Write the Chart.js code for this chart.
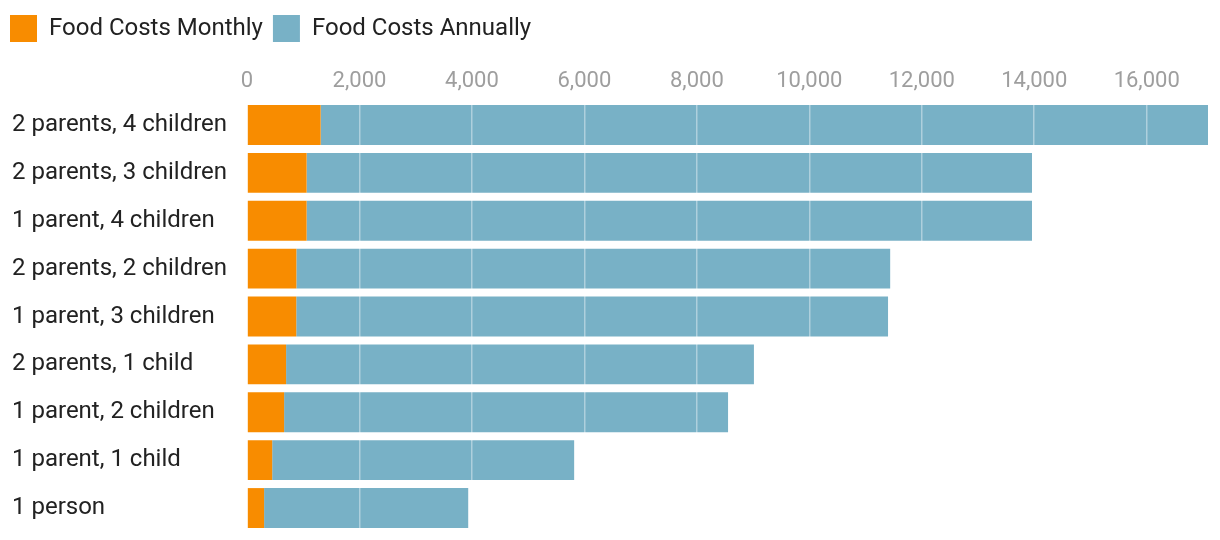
<!DOCTYPE html>
<html>
<head>
<meta charset="utf-8">
<title>Food Costs</title>
<script src="https://cdn.jsdelivr.net/npm/chart.js@4"></script>
<style>
    html, body { margin: 0; padding: 0; background: #fff; }
    #wrap { width: 1220px; height: 540px; }
</style>
</head>
<body>
<div id="wrap"><canvas id="foodChart" width="1220" height="540"></canvas></div>
<script>
// household types, top to bottom
const householdLabels = [
    '2 parents, 4 children',
    '2 parents, 3 children',
    '1 parent, 4 children',
    '2 parents, 2 children',
    '1 parent, 3 children',
    '2 parents, 1 child',
    '1 parent, 2 children',
    '1 parent, 1 child',
    '1 person'
];
const monthlyCosts = [1310, 1060, 1060, 878, 876, 695, 660, 448, 304];
const annualCosts = [15780, 12900, 12900, 10560, 10524, 8320, 7895, 5370, 3630];
const tickValues = [0, 2000, 4000, 6000, 8000, 10000, 12000, 14000, 16000];

const ORANGE = '#f88c00';
const BLUE = '#78b1c6';

// axis ends right where the biggest stacked bar ends
const axisMax = Math.max(...monthlyCosts.map((m, i) => m + annualCosts[i]));

Chart.defaults.font.family = 'Roboto, "Noto Sans", sans-serif';

// y labels sit 12px in from the left edge, legend stays at 10px
const shiftLabels = {
    id: 'shiftLabels',
    afterLayout(chart) {
        chart.scales.y.left = 12;
    }
};

const ctx = document.getElementById('foodChart').getContext('2d');
new Chart(ctx, {
    type: 'bar',
    data: {
        labels: householdLabels,
        datasets: [
            {
                label: 'Food Costs Monthly',
                data: monthlyCosts,
                backgroundColor: ORANGE,
                borderWidth: 0,
                barPercentage: 1,
                categoryPercentage: 40 / 48
            },
            {
                label: 'Food Costs Annually',
                data: annualCosts,
                backgroundColor: BLUE,
                borderWidth: 0,
                barPercentage: 1,
                categoryPercentage: 40 / 48
            }
        ]
    },
    options: {
        indexAxis: 'y',
        responsive: false,
        animation: false,
        layout: { padding: { top: 5, left: 0, right: 12, bottom: 8 } },
        plugins: {
            legend: {
                position: 'top',
                align: 'start',
                labels: {
                    boxWidth: 27,
                    boxHeight: 27,
                    padding: 10,
                    color: '#222',
                    font: { size: 24 }
                }
            },
            tooltip: { enabled: false }
        },
        scales: {
            x: {
                position: 'top',
                stacked: true,
                min: 0,
                max: axisMax,
                grid: {
                    color: 'rgba(255,255,255,0.4)',
                    lineWidth: 1.5,
                    drawTicks: false,
                    z: 1
                },
                border: { display: false },
                afterBuildTicks: (scale) => {
                    scale.ticks = tickValues.map(v => ({ value: v }));
                },
                afterFit: (scale) => { scale.height = 49; },
                ticks: {
                    padding: 6,
                    color: '#9e9e9e',
                    font: { size: 22 },
                    callback: (val) => val.toLocaleString('en-US')
                }
            },
            y: {
                stacked: true,
                grid: { display: false, drawTicks: false },
                border: { display: false },
                ticks: {
                    crossAlign: 'far',
                    color: '#222',
                    font: { size: 24 }
                },
                afterFit: (scale) => {
                    scale.width = 247;
                    // labels fit inside their rows, no extra room needed
                    scale.paddingTop = 0;
                    scale.paddingBottom = 0;
                }
            }
        }
    },
    plugins: [shiftLabels]
});
</script>
</body>
</html>
